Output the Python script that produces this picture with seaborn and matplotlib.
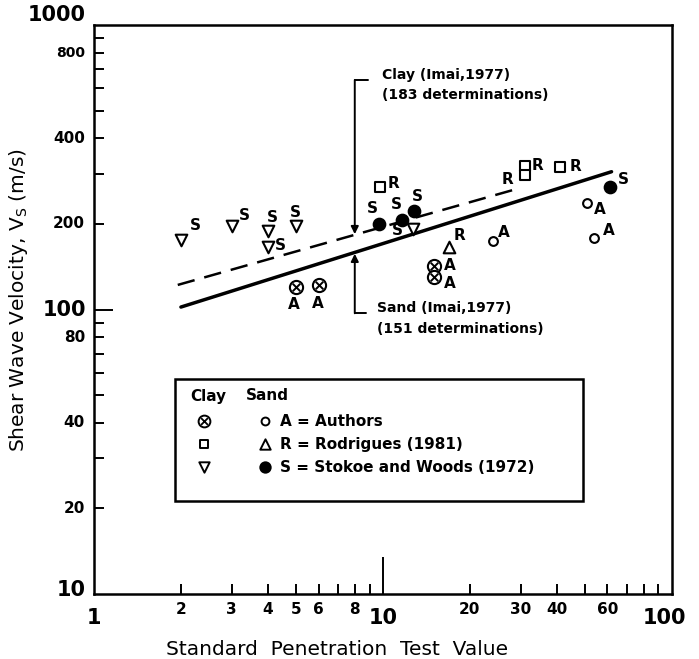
import matplotlib
matplotlib.use("Agg")
import matplotlib.pyplot as plt
import matplotlib.patches as mpatches
from matplotlib.ticker import FixedLocator, NullFormatter
import seaborn as sns

sns.set_style("white")
plt.rcParams["font.family"] = ["DejaVu Sans"]
plt.rcParams["text.color"] = "black"
plt.rcParams["axes.labelcolor"] = "black"

# ── data (N = SPT value, Vs in m/s) ──────────────────────────────────────────
clay_authors_n = [5, 6, 15, 15]
clay_authors_vs = [120, 122, 142, 130]
clay_rodrigues_n = [9.8, 31, 31, 41]
clay_rodrigues_vs = [269, 319, 297, 318]
clay_stokoe_n = [2, 3, 4, 4, 5, 12.7]
clay_stokoe_vs = [176, 197, 189, 166, 197, 192]
sand_authors_n = [24, 51, 54]
sand_authors_vs = [174, 236, 179]
sand_rodrigues_n = [17]
sand_rodrigues_vs = [166]
sand_stokoe_n = [9.7, 11.7, 12.8, 61]
sand_stokoe_vs = [200, 207, 222, 269]

# Imai (1977) regression lines, end points
clay_line_n = [1.95, 29]
clay_line_vs = [122, 265]
sand_line_n = [2.0, 62]
sand_line_vs = [102, 305]

# annotation anchors
arrow_n = 8
clay_arrow_vs = [641, 184]
sand_arrow_vs = [97, 157]
clay_text = ["Clay (Imai,1977)", "(183 determinations)"]
clay_text_vs = [667, 567]
sand_text = ["Sand (Imai,1977)", "(151 determinations)"]
sand_text_vs = [101, 85.4]

# ticks
xtick_small = [2, 3, 4, 5, 6, 8, 20, 30, 40, 60]
xtick_big = [1, 10, 100]
xtick_minor = [2, 3, 4, 5, 6, 7, 8, 9, 20, 30, 40, 50, 60, 70, 80, 90]
ytick_small = [20, 40, 80, 200, 400, 800]
ytick_big = [10, 100, 1000]
ytick_minor = [20, 30, 40, 50, 60, 70, 80, 90, 200, 300, 400, 500, 600, 700, 800, 900]

groups = [
    # n, vs, letter, label offsets (px), style
    (clay_authors_n, clay_authors_vs, "A",
     [(-2, -18), (-1, -19), (16, 1), (16, -6)], "clay_a"),
    (clay_rodrigues_n, clay_rodrigues_vs, "R",
     [(13, 4), (13, 1), (-17, -4), (16, 0)], "clay_r"),
    (clay_stokoe_n, clay_stokoe_vs, "S",
     [(14, 14), (13, 10), (5, 13), (13, 1), (0, 13), (-15, -2)], "clay_s"),
    (sand_authors_n, sand_authors_vs, "A",
     [(11, 9), (13, -6), (15, 7)], "sand_a"),
    (sand_rodrigues_n, sand_rodrigues_vs, "R", [(10, 11)], "sand_r"),
    (sand_stokoe_n, sand_stokoe_vs, "S",
     [(-7, 15), (-6, 15), (4, 14), (14, 8)], "sand_s"),
]

STYLE = {
    "clay_a": dict(marker="o", s=90, color="white"),
    "clay_r": dict(marker="s", s=45, color="white"),
    "clay_s": dict(marker="v", s=70, color="white"),
    "sand_a": dict(marker="o", s=40, color="white"),
    "sand_r": dict(marker="^", s=70, color="white"),
    "sand_s": dict(marker="o", s=70, color="black"),
}

W, H = 699, 659
AX_L, AX_R, AX_T, AX_B = 94, 671.5, 25, 594
fig = plt.figure(figsize=(W / 100, H / 100), dpi=100)
ax = fig.add_axes([AX_L / W, 1 - AX_B / H, (AX_R - AX_L) / W, (AX_B - AX_T) / H])
ax.set_xscale("log")
ax.set_yscale("log")

# regression lines
sns.lineplot(x=clay_line_n, y=clay_line_vs, ax=ax, color="black", lw=1.8,
             linestyle=(0, (7, 4)))
sns.lineplot(x=sand_line_n, y=sand_line_vs, ax=ax, color="black", lw=2.5)

# points + letters
for n, vs, letter, offs, key in groups:
    st = STYLE[key]
    sns.scatterplot(x=n, y=vs, ax=ax, marker=st["marker"], s=st["s"],
                    color=st["color"], edgecolor="black", linewidth=1.5,
                    zorder=4)
    if key == "clay_a":
        sns.scatterplot(x=n, y=vs, ax=ax, marker="x", s=30, color="black",
                        linewidth=1.4, zorder=5)
    for xi, yi, (dx, dy) in zip(n, vs, offs):
        ax.annotate(letter, (xi, yi), xytext=(dx, dy),
                    textcoords="offset pixels", ha="center", va="center",
                    fontsize=11, fontweight="bold")

# Imai annotations
ax.annotate("", xy=(arrow_n, clay_arrow_vs[1]), xytext=(arrow_n, clay_arrow_vs[0]),
            arrowprops=dict(arrowstyle="-|>", color="black", lw=1.4,
                            mutation_scale=11, shrinkA=0, shrinkB=0))
ax.plot([arrow_n, arrow_n * 1.11], [clay_arrow_vs[0]] * 2, color="black", lw=1.4)
ax.annotate("", xy=(arrow_n, sand_arrow_vs[1]), xytext=(arrow_n, sand_arrow_vs[0]),
            arrowprops=dict(arrowstyle="-|>", color="black", lw=1.4,
                            mutation_scale=11, shrinkA=0, shrinkB=0))
ax.plot([arrow_n, arrow_n * 1.09], [sand_arrow_vs[0]] * 2, color="black", lw=1.4)
for txt, v in zip(clay_text, clay_text_vs):
    ax.text(9.95, v, txt, ha="left", va="center", fontsize=10, fontweight="bold")
for txt, v in zip(sand_text, sand_text_vs):
    ax.text(9.55, v, txt, ha="left", va="center", fontsize=10, fontweight="bold")

# axes, ticks
ax.set_xlim(1, 100)
ax.set_ylim(10, 1000)
ax.xaxis.set_major_locator(FixedLocator([10]))
ax.xaxis.set_minor_locator(FixedLocator(xtick_minor))
ax.yaxis.set_major_locator(FixedLocator([100]))
ax.yaxis.set_minor_locator(FixedLocator(ytick_minor))
for axis in (ax.xaxis, ax.yaxis):
    axis.set_major_formatter(NullFormatter())
    axis.set_minor_formatter(NullFormatter())
ax.tick_params(which="both", bottom=True, left=True, top=False, right=False,
               direction="in", width=1.4, color="black")
ax.tick_params(axis="x", which="major", length=27)
ax.tick_params(axis="y", which="major", length=14)
ax.tick_params(which="minor", length=7)
for sp in ax.spines.values():
    sp.set_linewidth(1.8)
    sp.set_color("black")

xt = ax.get_xaxis_transform()
yt = ax.get_yaxis_transform()
for v in xtick_small:
    ax.annotate(str(v), (v, 0), xycoords=xt, xytext=(0, -15),
                textcoords="offset pixels", ha="center", va="center",
                fontsize=11, fontweight="bold")
for v, dx in zip(xtick_big, [0, 0, -7]):
    ax.annotate(str(v), (v, 0), xycoords=xt, xytext=(dx, -24),
                textcoords="offset pixels", ha="center", va="center",
                fontsize=15, fontweight="bold")
for v in ytick_small:
    ax.annotate(str(v), (0, v), xycoords=yt, xytext=(-9, 0),
                textcoords="offset pixels", ha="right", va="center",
                fontsize=10 if v == 800 else 11, fontweight="bold")
for v, dy in zip(ytick_big, [4, 0, 10]):
    ax.annotate(str(v), (0, v), xycoords=yt, xytext=(-8, dy),
                textcoords="offset pixels", ha="right", va="center",
                fontsize=15, fontweight="bold")

ax.set_xlabel("Standard  Penetration  Test  Value", fontsize=14.5)
ax.xaxis.set_label_coords((337 - AX_L) / (AX_R - AX_L), -(640 - AX_B) / (AX_B - AX_T))
ax.set_ylabel("Shear Wave Velocity, V$_\\mathrm{S}$ (m/s)", fontsize=14.5)
ax.yaxis.set_label_coords(-(AX_L - 30) / (AX_R - AX_L), (AX_B - 300) / (AX_B - AX_T))

# legend box (drawn in axes fraction)
def fx(px):
    return (px - AX_L) / (AX_R - AX_L)

def fy(py):
    return (AX_B - py) / (AX_B - AX_T)

ax.add_patch(mpatches.Rectangle((fx(175), fy(501)), fx(583) - fx(175), fy(379) - fy(501),
                                transform=ax.transAxes, fill=False, lw=1.8,
                                edgecolor="black", zorder=6))
ax.text(fx(190), fy(396), "Clay", transform=ax.transAxes, ha="left", va="center",
        fontsize=11, fontweight="bold")
ax.text(fx(246), fy(396), "Sand", transform=ax.transAxes, ha="left", va="center",
        fontsize=11, fontweight="bold")
leg_rows = [("clay_a", "sand_a", "A = Authors"),
            ("clay_r", "sand_r", "R = Rodrigues (1981)"),
            ("clay_s", "sand_s", "S = Stokoe and Woods (1972)")]
for (ck, sk, lab), py in zip(leg_rows, [421, 444, 467]):
    for key, px in ((ck, 204), (sk, 265)):
        st = STYLE[key]
        ax.scatter([fx(px)], [fy(py)], transform=ax.transAxes, marker=st["marker"],
                   s=st["s"] * 0.8, c=st["color"], edgecolors="black",
                   linewidths=1.4, zorder=7, clip_on=False)
        if key == "clay_a":
            ax.scatter([fx(px)], [fy(py)], transform=ax.transAxes, marker="x",
                       s=24, c="black", linewidths=1.3, zorder=8)
    ax.text(fx(280), fy(py), lab, transform=ax.transAxes, ha="left", va="center",
            fontsize=11, fontweight="bold")

fig.savefig("out.png", dpi=100)
